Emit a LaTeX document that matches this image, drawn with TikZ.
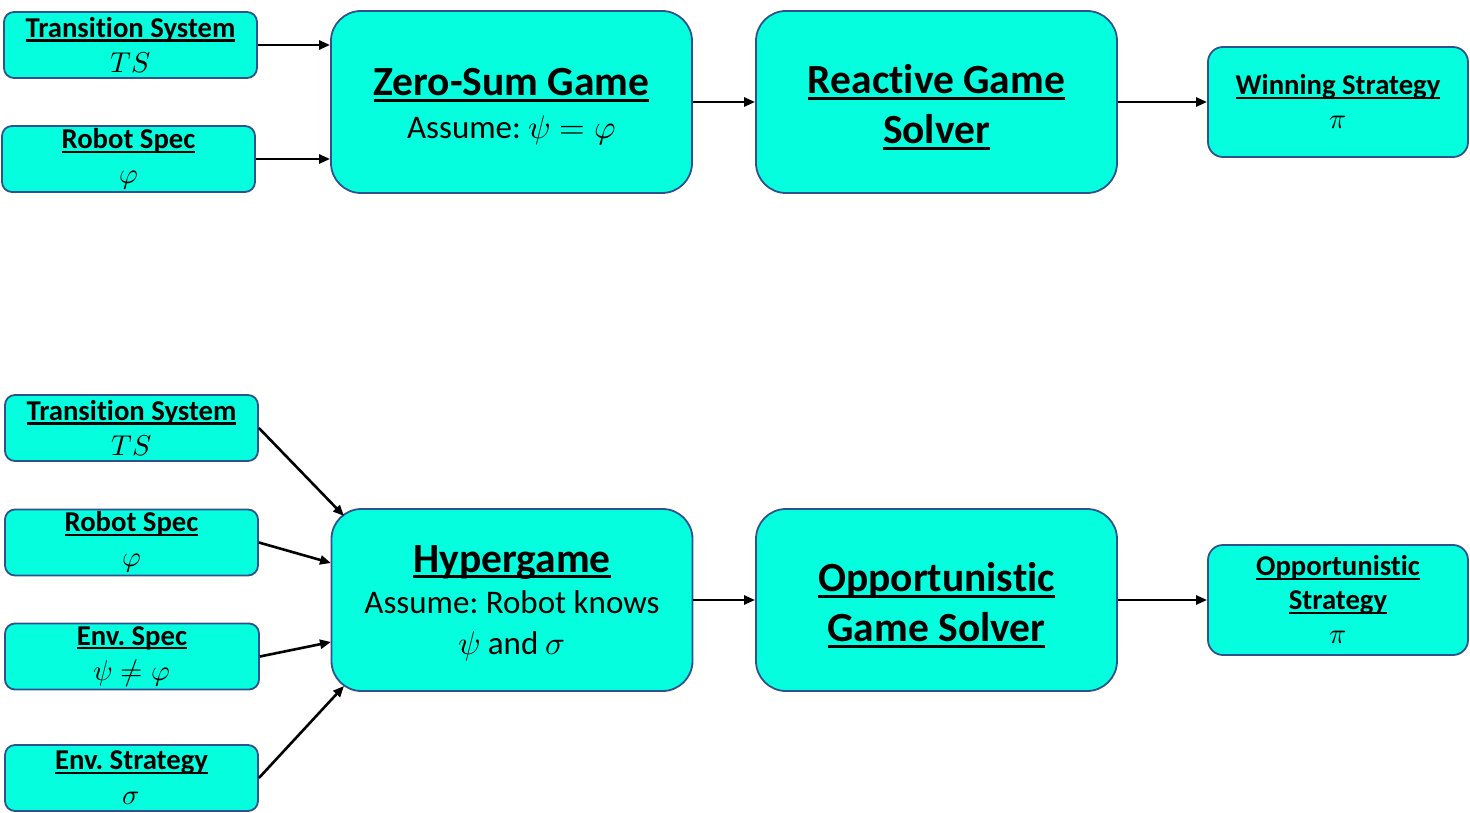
\documentclass[tikz,border=0pt]{standalone}
\usepackage{fontspec}
\usepackage{unicode-math}
\setmainfont[Ligatures={NoCommon}]{Carlito}
\setmathfont{Latin Modern Math}
\usetikzlibrary{arrows.meta,calc}
\definecolor{boxfill}{RGB}{5,255,222}
\definecolor{boxline}{RGB}{47,82,143}
\newcommand\myul[1]{\leavevmode\setbox0\hbox{#1}\rlap{\rule[-0.15em]{\wd0}{0.075em}}\box0}
\frenchspacing
\begin{document}
\begin{tikzpicture}[x=1pt,y=-1pt,
  small/.style={draw=boxline, fill=boxfill, line width=1.8pt, rounded corners=10pt,
    inner sep=0pt, align=center, minimum width=253pt, minimum height=66pt,
    font=\fontsize{28.7}{35}\selectfont},
  bigbox/.style={draw=boxline, fill=boxfill, line width=1.8pt, rounded corners=30pt,
    inner sep=0pt, minimum width=361pt, minimum height=182pt},
  bigtext/.style={inner sep=0pt, align=center, font=\fontsize{33}{43}\selectfont},
  outbox/.style={draw=boxline, fill=boxfill, line width=1.8pt, rounded corners=15pt,
    inner sep=0pt, align=center, minimum width=260pt, minimum height=110pt,
    font=\fontsize{28.7}{34}\selectfont},
  arr/.style={-{Triangle[length=11pt,width=9pt]}, line width=2.6pt}]
\useasboundingbox (0,0) rectangle (1470,813);

% top row
\node[small] (ts1) at (130.5,45) {\textbf{\myul{Transition System}}\\ $TS$};
\node[small] (rs1) at (128.5,159) {\textbf{\myul{Robot Spec}}\\ $\varphi$};
\node[bigbox] (zs) at (511.5,102) {};
\node[bigtext] (zst) at ($(zs.center)+(0,5)$) {{\fontsize{41.5}{43}\selectfont\bfseries\myul{Zero-Sum Game}}\\ Assume: $\psi=\varphi$};
\node[bigbox] (rg) at (936.5,102) {};
\node[bigtext, font=\fontsize{41.5}{50}\selectfont\bfseries] (rgt) at ($(rg.center)+(0,5)$) {\myul{Reactive Game}\\ \myul{Solver}};
\node[outbox] (ws) at (1338,102) {\textbf{\myul{Winning Strategy}}\\ $\pi$};

\draw[arr] (ts1.east) -- (ts1.east -| zs.west);
\draw[arr] (rs1.east) -- (rs1.east -| zs.west);
\draw[arr] (zs.east) -- (rg.west);
\draw[arr] (rg.east) -- (ws.west);

% bottom row
\node[small] (ts2) at (131.5,428) {\textbf{\myul{Transition System}}\\ $TS$};
\node[small] (rs2) at (131.5,542.5) {\textbf{\myul{Robot Spec}}\\ $\varphi$};
\node[small, minimum width=254pt] (es) at (132,656.5) {\textbf{\myul{Env. Spec}}\\ $\psi\neq\varphi$};
\node[small] (est) at (131.5,778) {\textbf{\myul{Env. Strategy}}\\ $\sigma$};
\node[bigbox] (hg) at (512,600) {};
\node[bigtext, font=\fontsize{33}{41}\selectfont] (hgt) at ($(hg.center)+(0,3)$) {{\fontsize{41.5}{42}\selectfont\bfseries\myul{Hypergame}}\\ Assume: Robot knows\\ $\psi$ and $\sigma$};
\node[bigbox] (og) at (936.5,600) {};
\node[bigtext, font=\fontsize{41.5}{50}\selectfont\bfseries] (ogt) at ($(og.center)+(0,5)$) {\myul{Opportunistic}\\ \myul{Game Solver}};
\node[outbox, font=\fontsize{28.7}{34}\selectfont] (os) at (1338,600) {\textbf{\myul{Opportunistic}}\\ \textbf{\myul{Strategy}}\\ $\pi$};

\coordinate (hgA) at (344,516);
\coordinate (hgB) at (331,563);
\coordinate (hgC) at (331,642);
\coordinate (hgD) at (344,686);
\draw[arr] (ts2.east) -- (hgA);
\draw[arr] (rs2.east) -- (hgB);
\draw[arr] (es.east) -- (hgC);
\draw[arr] (est.east) -- (hgD);
\draw[arr] (hg.east) -- (og.west);
\draw[arr] (og.east) -- (os.west);
\end{tikzpicture}
\end{document}
